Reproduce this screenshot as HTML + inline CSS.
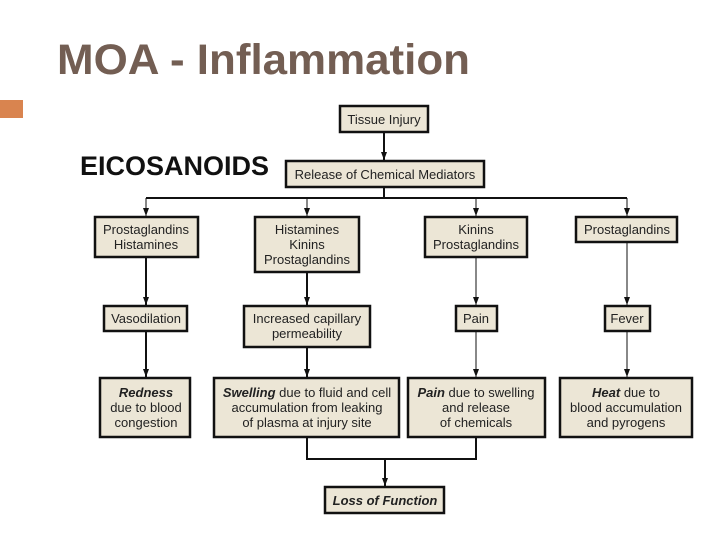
<!DOCTYPE html>
<html><head><meta charset="utf-8"><style>
html,body{margin:0;padding:0;background:#fff;}
svg{display:block;}
</style></head><body>
<svg width="720" height="540" viewBox="0 0 720 540" xmlns="http://www.w3.org/2000/svg" font-family="Liberation Sans, Arial, sans-serif">
<defs>
<marker id="a" markerWidth="9" markerHeight="8" refX="8" refY="4" orient="auto" markerUnits="userSpaceOnUse"><path d="M0,1 L8,4 L0,7 Z" fill="#111"/></marker>
</defs>
<rect width="720" height="540" fill="#fff"/>
<text x="57" y="74" font-size="43" font-weight="bold" fill="#735e53" textLength="413" lengthAdjust="spacingAndGlyphs">MOA - Inflammation</text>
<rect x="0" y="100" width="23" height="18" fill="#d9844f"/>
<text x="80" y="175" font-size="27" font-weight="bold" fill="#111">EICOSANOIDS</text>

<g fill="#ece6d6" stroke="#111" stroke-width="2.5">
<rect x="340" y="106" width="88" height="26"/>
<rect x="286" y="161" width="198" height="26"/>
<rect x="95" y="217" width="103" height="40"/>
<rect x="255" y="217" width="104" height="55"/>
<rect x="425" y="217" width="102" height="40"/>
<rect x="576" y="217" width="101" height="25"/>
<rect x="104" y="306" width="83" height="25"/>
<rect x="244" y="306" width="126" height="41"/>
<rect x="456" y="306" width="41" height="25"/>
<rect x="605" y="306" width="45" height="25"/>
<rect x="100" y="378" width="90" height="59"/>
<rect x="214" y="378" width="185" height="59"/>
<rect x="408" y="378" width="137" height="59"/>
<rect x="560" y="378" width="132" height="59"/>
<rect x="325" y="487" width="119" height="26"/>
</g>

<g stroke="#111" fill="none">
<line x1="384" y1="133" x2="384" y2="160" stroke-width="2" marker-end="url(#a)"/>
<line x1="384" y1="188" x2="384" y2="198" stroke-width="2"/>
<line x1="146" y1="198" x2="627" y2="198" stroke-width="2"/>
<line x1="146" y1="198" x2="146" y2="216" stroke-width="1" marker-end="url(#a)"/>
<line x1="307" y1="198" x2="307" y2="216" stroke-width="1" marker-end="url(#a)"/>
<line x1="476" y1="198" x2="476" y2="216" stroke-width="1" marker-end="url(#a)"/>
<line x1="627" y1="198" x2="627" y2="216" stroke-width="1" marker-end="url(#a)"/>
<line x1="146" y1="258" x2="146" y2="305" stroke-width="2" marker-end="url(#a)"/>
<line x1="307" y1="273" x2="307" y2="305" stroke-width="2" marker-end="url(#a)"/>
<line x1="476" y1="258" x2="476" y2="305" stroke-width="1" marker-end="url(#a)"/>
<line x1="627" y1="243" x2="627" y2="305" stroke-width="1" marker-end="url(#a)"/>
<line x1="146" y1="332" x2="146" y2="377" stroke-width="2" marker-end="url(#a)"/>
<line x1="307" y1="348" x2="307" y2="377" stroke-width="2" marker-end="url(#a)"/>
<line x1="476" y1="332" x2="476" y2="377" stroke-width="1" marker-end="url(#a)"/>
<line x1="627" y1="332" x2="627" y2="377" stroke-width="1" marker-end="url(#a)"/>
<polyline points="307,438 307,459 476,459 476,438" stroke-width="2"/>
<line x1="385" y1="459" x2="385" y2="486" stroke-width="2" marker-end="url(#a)"/>
</g>

<g font-size="13" fill="#222" text-anchor="middle">
<text x="384" y="124">Tissue Injury</text>
<text x="385" y="179">Release of Chemical Mediators</text>
<text x="146" y="234">Prostaglandins</text><text x="146" y="249">Histamines</text>
<text x="307" y="234">Histamines</text><text x="307" y="249">Kinins</text><text x="307" y="264">Prostaglandins</text>
<text x="476" y="234">Kinins</text><text x="476" y="249">Prostaglandins</text>
<text x="627" y="234">Prostaglandins</text>
<text x="146" y="323">Vasodilation</text>
<text x="307" y="323">Increased capillary</text><text x="307" y="338">permeability</text>
<text x="476" y="323">Pain</text>
<text x="627" y="323">Fever</text>
<text x="146" y="397"><tspan font-weight="bold" font-style="italic">Redness</tspan></text>
<text x="146" y="412">due to blood</text><text x="146" y="427">congestion</text>
<text x="307" y="397"><tspan font-weight="bold" font-style="italic">Swelling</tspan> due to fluid and cell</text>
<text x="307" y="412">accumulation from leaking</text><text x="307" y="427">of plasma at injury site</text>
<text x="476" y="397"><tspan font-weight="bold" font-style="italic">Pain</tspan> due to swelling</text>
<text x="476" y="412">and release</text><text x="476" y="427">of chemicals</text>
<text x="626" y="397"><tspan font-weight="bold" font-style="italic">Heat</tspan> due to</text>
<text x="626" y="412">blood accumulation</text><text x="626" y="427">and pyrogens</text>
<text x="385" y="505" font-weight="bold" font-style="italic">Loss of Function</text>
</g>
</svg>
</body></html>
